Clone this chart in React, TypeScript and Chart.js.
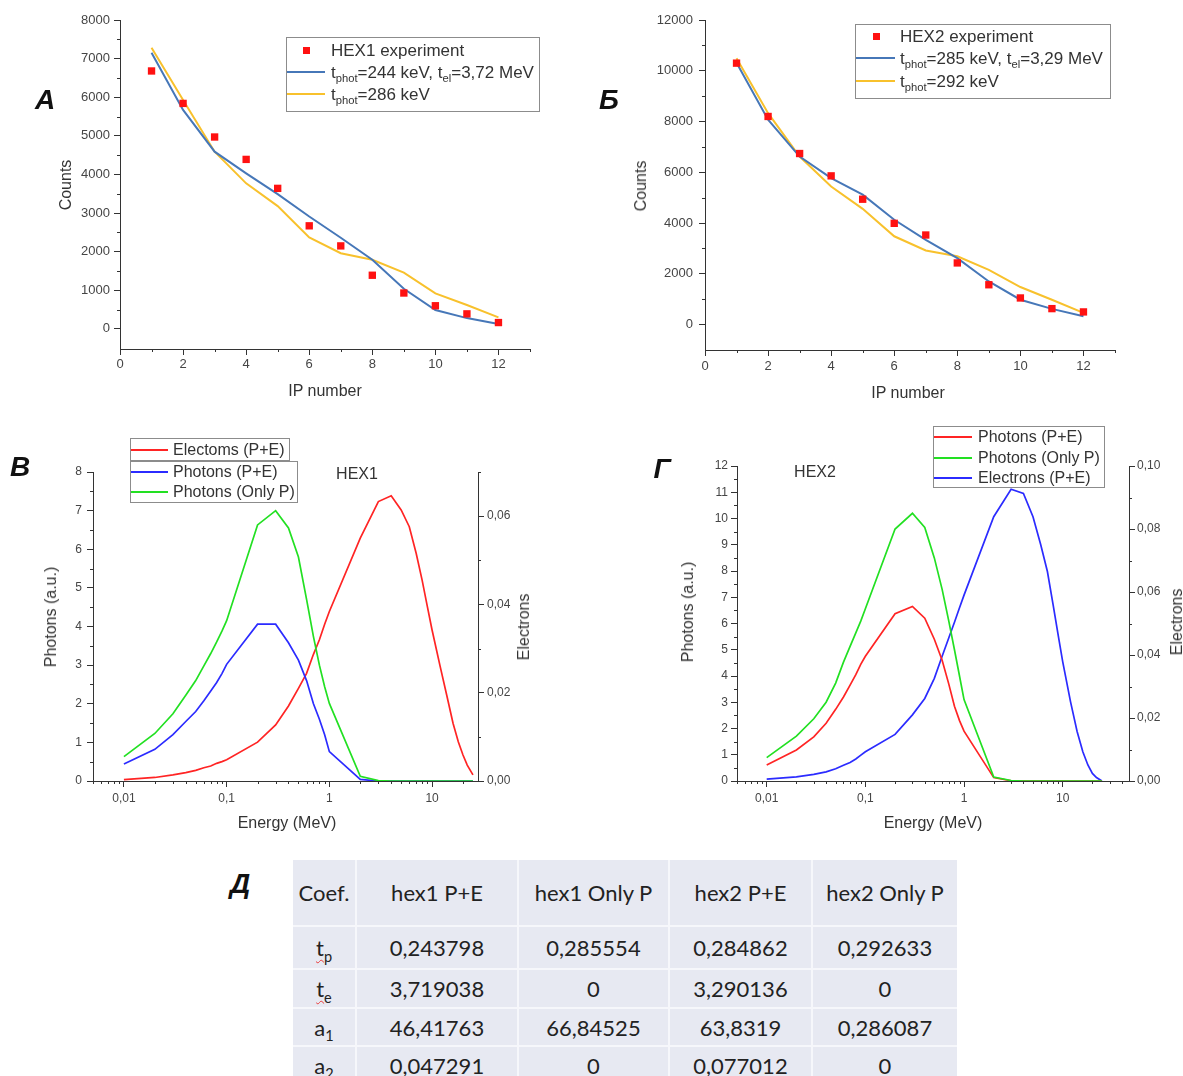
import React, { useEffect, useRef } from 'react';
import { Chart, registerables } from 'chart.js';

Chart.register(...registerables);

// ------------------------------------------------------------------ data
// Panels А / Б : counts on image plates
const IP_NUMBERS = [1, 2, 3, 4, 5, 6, 7, 8, 9, 10, 11, 12];
const HEX1_EXPERIMENT = [6680, 5840, 4970, 4390, 3640, 2670, 2150, 1390, 930, 600, 390, 165];
const HEX1_FIT_PE = [7150, 5670, 4590, 4030, 3490, 2910, 2360, 1790, 1040, 490, 280, 130];
const HEX1_FIT_P = [7280, 5930, 4590, 3770, 3180, 2370, 1960, 1790, 1460, 920, 620, 300];
const HEX2_EXPERIMENT = [10300, 8200, 6740, 5860, 4940, 3990, 3530, 2430, 1570, 1050, 630, 500];
const HEX2_FIT_PE = [10320, 8070, 6620, 5770, 5120, 4130, 3340, 2620, 1700, 980, 620, 330];
const HEX2_FIT_P = [10490, 8330, 6620, 5440, 4560, 3480, 2920, 2690, 2160, 1480, 980, 460];
const IP_TICKS = [0, 2, 4, 6, 8, 10, 12];
const IP_MINOR = [1, 3, 5, 7, 9, 11, 13];
const HEX1_COUNT_TICKS = [0, 1000, 2000, 3000, 4000, 5000, 6000, 7000, 8000];
const HEX1_COUNT_MINOR = [500, 1500, 2500, 3500, 4500, 5500, 6500, 7500];
const HEX2_COUNT_TICKS = [0, 2000, 4000, 6000, 8000, 10000, 12000];
const HEX2_COUNT_MINOR = [1000, 3000, 5000, 7000, 9000, 11000];

// Panels В / Г : spectra
const ENERGY_MEV = [0.01, 0.02, 0.03, 0.04, 0.05, 0.06, 0.07, 0.08, 0.09, 0.1, 0.2, 0.3, 0.4, 0.5, 0.6, 0.7, 0.8, 0.9, 1, 2, 3, 4, 5, 6, 7, 8, 9, 10, 12, 14, 16, 18, 20, 22, 25];
const HEX1_ELECTRONS_PE = [0.0003, 0.0008, 0.0014, 0.0019, 0.0024, 0.003, 0.0034, 0.004, 0.0044, 0.0048, 0.0088, 0.0127, 0.017, 0.021, 0.0244, 0.0287, 0.032, 0.0355, 0.0384, 0.055, 0.0633, 0.0646, 0.0614, 0.0576, 0.0516, 0.0455, 0.0395, 0.0342, 0.0259, 0.0191, 0.0131, 0.0089, 0.0059, 0.0036, 0.0014];
const HEX1_PHOTONS_PE = [0.44, 0.82, 1.2, 1.54, 1.8, 2.08, 2.33, 2.55, 2.78, 3.02, 4.06, 4.06, 3.58, 3.13, 2.6, 2.0, 1.6, 1.2, 0.76, 0.04, 0, 0, 0, 0, 0, 0, 0, 0, 0, 0, 0, 0, 0, 0, 0];
const HEX1_PHOTONS_P = [0.63, 1.23, 1.74, 2.22, 2.6, 2.98, 3.3, 3.6, 3.88, 4.15, 6.63, 7.0, 6.55, 5.8, 4.7, 3.74, 3.0, 2.44, 2.01, 0.12, 0.01, 0, 0, 0, 0, 0, 0, 0, 0, 0, 0, 0, 0, 0, 0];
const HEX2_PHOTONS_PE = [0.61, 1.18, 1.68, 2.2, 2.73, 3.2, 3.65, 4.05, 4.45, 4.75, 6.37, 6.65, 6.2, 5.4, 4.6, 3.7, 2.85, 2.3, 1.9, 0.13, 0.01, 0, 0, 0, 0, 0, 0, 0, 0, 0, 0, 0, 0, 0, 0];
const HEX2_PHOTONS_P = [0.89, 1.71, 2.37, 3.0, 3.73, 4.53, 5.13, 5.64, 6.1, 6.56, 9.6, 10.2, 9.66, 8.5, 7.3, 6.1, 5.0, 4.0, 3.1, 0.15, 0.02, 0, 0, 0, 0, 0, 0, 0, 0, 0, 0, 0, 0, 0, 0];
const HEX2_ELECTRONS_PE = [0.0006, 0.0013, 0.0021, 0.0029, 0.0039, 0.005, 0.0059, 0.007, 0.0082, 0.0093, 0.0148, 0.021, 0.0262, 0.0326, 0.0396, 0.0454, 0.0504, 0.055, 0.059, 0.0839, 0.0926, 0.0913, 0.0839, 0.0749, 0.0665, 0.0559, 0.0463, 0.0379, 0.0252, 0.0157, 0.0093, 0.0051, 0.0024, 0.0011, 0.0];
const ENERGY_TICKS = [0.01, 0.1, 1, 10];
const HEX1_PHOTON_TICKS = [0, 1, 2, 3, 4, 5, 6, 7, 8];
const HEX1_PHOTON_MINOR = [0.5, 1.5, 2.5, 3.5, 4.5, 5.5, 6.5, 7.5];
const HEX1_ELECTRON_TICKS = [0, 0.02, 0.04, 0.06];
const HEX1_ELECTRON_MINOR = [0.01, 0.03, 0.05, 0.07];
const HEX2_PHOTON_TICKS = [0, 1, 2, 3, 4, 5, 6, 7, 8, 9, 10, 11, 12];
const HEX2_PHOTON_MINOR = [0.5, 1.5, 2.5, 3.5, 4.5, 5.5, 6.5, 7.5, 8.5, 9.5, 10.5, 11.5];
const HEX2_ELECTRON_TICKS = [0, 0.02, 0.04, 0.06, 0.08, 0.1];
const HEX2_ELECTRON_MINOR = [0.01, 0.03, 0.05, 0.07, 0.09];

// Panel Д : fit coefficients
const TABLE_HEADERS = ['Coef.', 'hex1 P+E', 'hex1 Only P', 'hex2 P+E', 'hex2 Only P'];
const TABLE_HEX1_PE = ['0,243798', '3,719038', '46,41763', '0,047291'];
const TABLE_HEX1_P = ['0,285554', '0', '66,84525', '0'];
const TABLE_HEX2_PE = ['0,284862', '3,290136', '63,8319', '0,077012'];
const TABLE_HEX2_P = ['0,292633', '0', '0,286087', '0'];

// ------------------------------------------------------------------ styles
const FONT = "'Liberation Sans', Arial, Helvetica, sans-serif";
const AXIS_COLOR = '#333333';
const TEXT_COLOR = '#333333';
const TICK_COLOR = '#454545';
const EXP_RED = '#ff1111';
const FIT_BLUE = '#4677b8';
const FIT_YELLOW = '#f8c12c';
const SPEC_RED = '#ff2424';
const SPEC_BLUE = '#2b2bff';
const SPEC_GREEN = '#22e022';

const pts = (xs: number[], ys: number[]) => xs.map((x, i) => ({ x, y: ys[i] }));

function logMinors(lo: number, hi: number): number[] {
  const out: number[] = [];
  for (let e = -3; e <= 2; e++) {
    for (let k = 2; k <= 9; k++) {
      const v = Number((k * Math.pow(10, e)).toPrecision(3));
      if (v >= lo && v <= hi) out.push(v);
    }
  }
  return out;
}

const MINOR_LEN = 3;
function minorTicks(spec: Record<string, number[]>) {
  return {
    id: 'minorTicks',
    afterDraw(chart: any) {
      const ctx = chart.ctx as CanvasRenderingContext2D;
      ctx.save();
      ctx.strokeStyle = AXIS_COLOR;
      ctx.lineWidth = 1;
      ctx.beginPath();
      for (const id of Object.keys(spec)) {
        const s = chart.scales[id];
        if (!s) continue;
        for (const v of spec[id]) {
          if (v < s.min || v > s.max) continue;
          const p = Math.round(s.getPixelForValue(v)) + 0.5;
          if (s.isHorizontal()) {
            ctx.moveTo(p, s.top);
            ctx.lineTo(p, s.top + MINOR_LEN);
          } else if (s.position === 'left') {
            ctx.moveTo(s.right, p);
            ctx.lineTo(s.right - MINOR_LEN, p);
          } else {
            ctx.moveTo(s.left, p);
            ctx.lineTo(s.left + MINOR_LEN, p);
          }
        }
      }
      ctx.stroke();
      ctx.restore();
    },
  };
}

function axis(o: {
  type?: 'linear' | 'logarithmic';
  position: string;
  min: number;
  max: number;
  ticks: number[];
  size: number;
  fontSize: number;
  pad: number;
  fmt?: (v: number) => string;
}) {
  return {
    type: o.type ?? 'linear',
    position: o.position,
    min: o.min,
    max: o.max,
    afterBuildTicks: (s: any) => {
      s.ticks = o.ticks.map((v) => ({ value: v }));
    },
    afterFit: (s: any) => {
      if (s.isHorizontal()) s.height = o.size;
      else s.width = o.size;
    },
    ticks: {
      autoSkip: false,
      maxRotation: 0,
      minRotation: 0,
      padding: o.pad,
      color: TICK_COLOR,
      font: { family: FONT, size: o.fontSize },
      callback: (v: any) => (o.fmt ? o.fmt(Number(v)) : String(v)),
    },
    grid: {
      display: true,
      drawOnChartArea: false,
      drawTicks: true,
      tickLength: 6,
      tickColor: AXIS_COLOR,
      tickWidth: 1,
      color: AXIS_COLOR,
    },
    border: { display: true, color: AXIS_COLOR, width: 1 },
  };
}

const comma2 = (v: number) => v.toFixed(2).replace('.', ',');
const energyFmt = (v: number) => String(v).replace('.', ',');

const baseOptions = {
  responsive: false,
  animation: false,
  devicePixelRatio: 1,
  events: [] as string[],
};
const noPlugins = {
  legend: { display: false },
  tooltip: { enabled: false },
  title: { display: false },
};

function ipConfig(p: {
  exp: number[];
  pe: number[];
  onlyP: number[];
  yMin: number;
  yMax: number;
  yTicks: number[];
  yMinor: number[];
  xHeight: number;
  yPad: number;
  xPad: number;
}) {
  return {
    type: 'line',
    data: {
      datasets: [
        {
          label: 'experiment',
          data: pts(IP_NUMBERS, p.exp),
          showLine: false,
          pointStyle: 'rect',
          pointRadius: 5.2,
          pointBackgroundColor: EXP_RED,
          pointBorderWidth: 0,
          borderColor: EXP_RED,
          backgroundColor: EXP_RED,
        },
        {
          label: 'P+E fit',
          data: pts(IP_NUMBERS, p.pe),
          borderColor: FIT_BLUE,
          borderWidth: 2,
          pointRadius: 0,
          tension: 0,
          fill: false,
        },
        {
          label: 'P fit',
          data: pts(IP_NUMBERS, p.onlyP),
          borderColor: FIT_YELLOW,
          borderWidth: 2,
          pointRadius: 0,
          tension: 0,
          fill: false,
        },
      ],
    },
    options: {
      ...baseOptions,
      layout: { padding: { left: 0, right: 30, top: 20, bottom: 0 } },
      plugins: noPlugins,
      scales: {
        x: axis({ position: 'bottom', min: 0, max: 13, ticks: IP_TICKS, size: p.xHeight, fontSize: 13, pad: p.xPad }),
        y: axis({ position: 'left', min: p.yMin, max: p.yMax, ticks: p.yTicks, size: 90, fontSize: 13, pad: p.yPad }),
      },
    },
    plugins: [minorTicks({ x: IP_MINOR, y: p.yMinor })],
  };
}

function spectrumConfig(p: {
  series: { data: number[]; color: string; axis: 'y' | 'y2' }[];
  xMax: number;
  yMax: number;
  y2Max: number;
  yTicks: number[];
  y2Ticks: number[];
  yMinor: number[];
  y2Minor: number[];
  yWidth: number;
  y2Width: number;
  top: number;
  xHeight: number;
  yPad: number;
  y2Pad: number;
}) {
  return {
    type: 'line',
    data: {
      datasets: p.series.map((s) => ({
        data: pts(ENERGY_MEV, s.data),
        yAxisID: s.axis,
        borderColor: s.color,
        borderWidth: 1.7,
        pointRadius: 0,
        tension: 0,
        fill: false,
      })),
    },
    options: {
      ...baseOptions,
      layout: { padding: { left: 0, right: 0, top: p.top, bottom: 0 } },
      plugins: noPlugins,
      scales: {
        x: axis({ type: 'logarithmic', position: 'bottom', min: 0.005, max: p.xMax, ticks: ENERGY_TICKS, size: p.xHeight, fontSize: 12, pad: 4, fmt: energyFmt }),
        y: axis({ position: 'left', min: 0, max: p.yMax, ticks: p.yTicks, size: p.yWidth, fontSize: 12, pad: p.yPad }),
        y2: axis({ position: 'right', min: 0, max: p.y2Max, ticks: p.y2Ticks, size: p.y2Width, fontSize: 12, pad: p.y2Pad, fmt: comma2 }),
      },
    },
    plugins: [minorTicks({ x: logMinors(0.005, p.xMax), y: p.yMinor, y2: p.y2Minor })],
  };
}

// ------------------------------------------------------------------ components
function ChartCanvas(props: { left: number; top: number; width: number; height: number; make: () => any }) {
  const ref = useRef<HTMLCanvasElement | null>(null);
  useEffect(() => {
    if (!ref.current) return;
    const chart = new Chart(ref.current, props.make());
    return () => chart.destroy();
  }, []);
  return (
    <canvas
      ref={ref}
      width={props.width}
      height={props.height}
      style={{ position: 'absolute', left: props.left, top: props.top, width: props.width, height: props.height, display: 'block' }}
    />
  );
}

function Txt(props: { x: number; y: number; size?: number; rotate?: boolean; style?: React.CSSProperties; children: React.ReactNode }) {
  return (
    <div
      style={{
        position: 'absolute',
        left: props.x,
        top: props.y,
        transform: `translate(-50%, -50%)${props.rotate ? ' rotate(-90deg)' : ''}`,
        fontSize: props.size ?? 16,
        fontFamily: FONT,
        color: TEXT_COLOR,
        whiteSpace: 'nowrap',
        lineHeight: 1,
        ...props.style,
      }}
    >
      {props.children}
    </div>
  );
}

function PanelLetter(props: { x: number; y: number; children: React.ReactNode }) {
  return (
    <Txt
      x={props.x}
      y={props.y}
      size={28}
      style={{ fontWeight: 700, fontStyle: 'italic', fontFamily: "'Liberation Sans Narrow', 'Liberation Sans', Arial, sans-serif", color: '#111' }}
    >
      {props.children}
    </Txt>
  );
}

const Sub = (props: { children: React.ReactNode }) => (
  <span style={{ fontSize: '0.66em', position: 'relative', top: '0.38em' }}>{props.children}</span>
);

type LegendRow = { y: number; color: string; kind: 'line' | 'square'; label: React.ReactNode };
function Legend(props: {
  boxes: { x: number; y: number; w: number; h: number }[];
  lineX0: number;
  lineX1: number;
  textX: number;
  size: number;
  rows: LegendRow[];
}) {
  return (
    <>
      {props.boxes.map((b, i) => (
        <div key={'b' + i} style={{ position: 'absolute', left: b.x, top: b.y, width: b.w, height: b.h, border: '1px solid #8c8c8c', boxSizing: 'border-box' }} />
      ))}
      {props.rows.map((r, i) => (
        <React.Fragment key={'r' + i}>
          {r.kind === 'line' ? (
            <div style={{ position: 'absolute', left: props.lineX0, top: r.y - 1, width: props.lineX1 - props.lineX0, height: 2, background: r.color }} />
          ) : (
            <div style={{ position: 'absolute', left: (props.lineX0 + props.lineX1) / 2 - 3, top: r.y - 3, width: 7, height: 7, background: r.color }} />
          )}
          <div
            style={{
              position: 'absolute',
              left: props.textX,
              top: r.y,
              transform: 'translateY(-50%)',
              fontSize: props.size,
              fontFamily: FONT,
              color: TEXT_COLOR,
              whiteSpace: 'nowrap',
              lineHeight: 1,
            }}
          >
            {r.label}
          </div>
        </React.Fragment>
      ))}
    </>
  );
}

const WAVY: React.CSSProperties = { textDecoration: 'underline wavy #e83a3a', textDecorationThickness: '1px', textUnderlineOffset: '3px' };
const TABLE_COEFS: React.ReactNode[] = [
  <span style={WAVY}>t<Sub>p</Sub></span>,
  <span style={WAVY}>t<Sub>e</Sub></span>,
  <span>a<Sub>1</Sub></span>,
  <span>a<Sub>2</Sub></span>,
];

function CoefTable() {
  const colW = [64, 162, 151, 143, 144];
  const rowH = [67, 43, 39, 38, 38];
  const x0 = 293;
  const y0 = 860;
  const rows: React.ReactNode[][] = [
    TABLE_HEADERS,
    ...TABLE_COEFS.map((c, i) => [c, TABLE_HEX1_PE[i], TABLE_HEX1_P[i], TABLE_HEX2_PE[i], TABLE_HEX2_P[i]]),
  ];
  const cells: React.ReactNode[] = [];
  let y = y0;
  rows.forEach((row, r) => {
    let x = x0;
    row.forEach((content, c) => {
      cells.push(
        <div
          key={`${r}-${c}`}
          style={{
            position: 'absolute',
            left: x,
            top: y,
            width: colW[c],
            height: rowH[r],
            boxSizing: 'border-box',
            background: '#e7e9f2',
            borderRight: c < 4 ? '2px solid #f6f7fb' : 'none',
            borderBottom: '2px solid #f6f7fb',
            display: 'flex',
            alignItems: 'center',
            justifyContent: 'center',
            fontFamily: "Lato, 'Open Sans', sans-serif",
            fontSize: 22,
            color: '#222',
            whiteSpace: 'nowrap',
          }}
        >
          {content}
        </div>
      );
      x += colW[c];
    });
    y += rowH[r];
  });
  return <>{cells}</>;
}

export default function App() {
  return (
    <div
      style={{
        position: 'absolute',
        left: 0,
        top: 0,
        width: 1183,
        height: 1076,
        overflow: 'hidden',
        background: '#ffffff',
        fontFamily: FONT,
      }}
    >
      {/* Panel А */}
      <ChartCanvas
        left={30}
        top={0}
        width={530}
        height={410}
        make={() =>
          ipConfig({ exp: HEX1_EXPERIMENT, pe: HEX1_FIT_PE, onlyP: HEX1_FIT_P, yMin: -520, yMax: 8000, yTicks: HEX1_COUNT_TICKS, yMinor: HEX1_COUNT_MINOR, xHeight: 61, yPad: 4, xPad: 2 })
        }
      />
      {/* Panel Б */}
      <ChartCanvas
        left={615}
        top={0}
        width={530}
        height={410}
        make={() =>
          ipConfig({ exp: HEX2_EXPERIMENT, pe: HEX2_FIT_PE, onlyP: HEX2_FIT_P, yMin: -1000, yMax: 12000, yTicks: HEX2_COUNT_TICKS, yMinor: HEX2_COUNT_MINOR, xHeight: 60, yPad: 6, xPad: 3 })
        }
      />
      {/* Panel В */}
      <ChartCanvas
        left={0}
        top={425}
        width={560}
        height={415}
        make={() =>
          spectrumConfig({
            series: [
              { data: HEX1_PHOTONS_P, color: SPEC_GREEN, axis: 'y' },
              { data: HEX1_PHOTONS_PE, color: SPEC_BLUE, axis: 'y' },
              { data: HEX1_ELECTRONS_PE, color: SPEC_RED, axis: 'y2' },
            ],
            xMax: 28,
            yMax: 8,
            y2Max: 0.07,
            yTicks: HEX1_PHOTON_TICKS,
            y2Ticks: HEX1_ELECTRON_TICKS,
            yMinor: HEX1_PHOTON_MINOR,
            y2Minor: HEX1_ELECTRON_MINOR,
            yWidth: 93,
            y2Width: 82,
            top: 47,
            xHeight: 59,
            yPad: 5,
            y2Pad: 3,
          })
        }
      />
      {/* Panel Г */}
      <ChartCanvas
        left={640}
        top={425}
        width={543}
        height={415}
        make={() =>
          spectrumConfig({
            series: [
              { data: HEX2_PHOTONS_P, color: SPEC_GREEN, axis: 'y' },
              { data: HEX2_PHOTONS_PE, color: SPEC_RED, axis: 'y' },
              { data: HEX2_ELECTRONS_PE, color: SPEC_BLUE, axis: 'y2' },
            ],
            xMax: 47,
            yMax: 12,
            y2Max: 0.1,
            yTicks: HEX2_PHOTON_TICKS,
            y2Ticks: HEX2_ELECTRON_TICKS,
            yMinor: HEX2_PHOTON_MINOR,
            y2Minor: HEX2_ELECTRON_MINOR,
            yWidth: 97,
            y2Width: 54,
            top: 41,
            xHeight: 59,
            yPad: 3,
            y2Pad: 2,
          })
        }
      />

      {/* axis titles */}
      <Txt x={66} y={185} rotate>Counts</Txt>
      <Txt x={325} y={391}>IP number</Txt>
      <Txt x={641} y={186} rotate>Counts</Txt>
      <Txt x={908} y={393}>IP number</Txt>
      <Txt x={51} y={617} rotate>Photons (a.u.)</Txt>
      <Txt x={524} y={627} rotate>Electrons</Txt>
      <Txt x={287} y={823}>Energy (MeV)</Txt>
      <Txt x={688} y={612} rotate>Photons (a.u.)</Txt>
      <Txt x={1177} y={622} rotate>Electrons</Txt>
      <Txt x={933} y={823}>Energy (MeV)</Txt>
      <Txt x={357} y={474}>HEX1</Txt>
      <Txt x={815} y={472}>HEX2</Txt>

      {/* legends */}
      <Legend
        boxes={[{ x: 286, y: 37, w: 254, h: 75 }]}
        lineX0={287}
        lineX1={325}
        textX={331}
        size={17}
        rows={[
          { y: 50, color: EXP_RED, kind: 'square', label: 'HEX1 experiment' },
          { y: 72, color: FIT_BLUE, kind: 'line', label: <span>t<Sub>phot</Sub>=244 keV, t<Sub>el</Sub>=3,72 MeV</span> },
          { y: 94, color: FIT_YELLOW, kind: 'line', label: <span>t<Sub>phot</Sub>=286 keV</span> },
        ]}
      />
      <Legend
        boxes={[{ x: 855, y: 24, w: 256, h: 75 }]}
        lineX0={856}
        lineX1={895}
        textX={900}
        size={17}
        rows={[
          { y: 36, color: EXP_RED, kind: 'square', label: 'HEX2 experiment' },
          { y: 58, color: FIT_BLUE, kind: 'line', label: <span>t<Sub>phot</Sub>=285 keV, t<Sub>el</Sub>=3,29 MeV</span> },
          { y: 81, color: FIT_YELLOW, kind: 'line', label: <span>t<Sub>phot</Sub>=292 keV</span> },
        ]}
      />
      <Legend
        boxes={[
          { x: 130, y: 438, w: 160, h: 23 },
          { x: 130, y: 461, w: 168, h: 42 },
        ]}
        lineX0={131}
        lineX1={168}
        textX={173}
        size={16}
        rows={[
          { y: 450, color: SPEC_RED, kind: 'line', label: 'Electoms (P+E)' },
          { y: 471.5, color: SPEC_BLUE, kind: 'line', label: 'Photons (P+E)' },
          { y: 491.5, color: SPEC_GREEN, kind: 'line', label: 'Photons (Only P)' },
        ]}
      />
      <Legend
        boxes={[{ x: 933, y: 426, w: 172, h: 62 }]}
        lineX0={934}
        lineX1={972}
        textX={978}
        size={16}
        rows={[
          { y: 437, color: SPEC_RED, kind: 'line', label: 'Photons (P+E)' },
          { y: 457.5, color: SPEC_GREEN, kind: 'line', label: 'Photons (Only P)' },
          { y: 478, color: SPEC_BLUE, kind: 'line', label: 'Electrons (P+E)' },
        ]}
      />

      {/* panel letters */}
      <PanelLetter x={45} y={100}>А</PanelLetter>
      <PanelLetter x={609} y={100}>Б</PanelLetter>
      <PanelLetter x={20} y={467}>В</PanelLetter>
      <PanelLetter x={662} y={469}>Г</PanelLetter>
      <PanelLetter x={240} y={884}>Д</PanelLetter>

      <CoefTable />
    </div>
  );
}
